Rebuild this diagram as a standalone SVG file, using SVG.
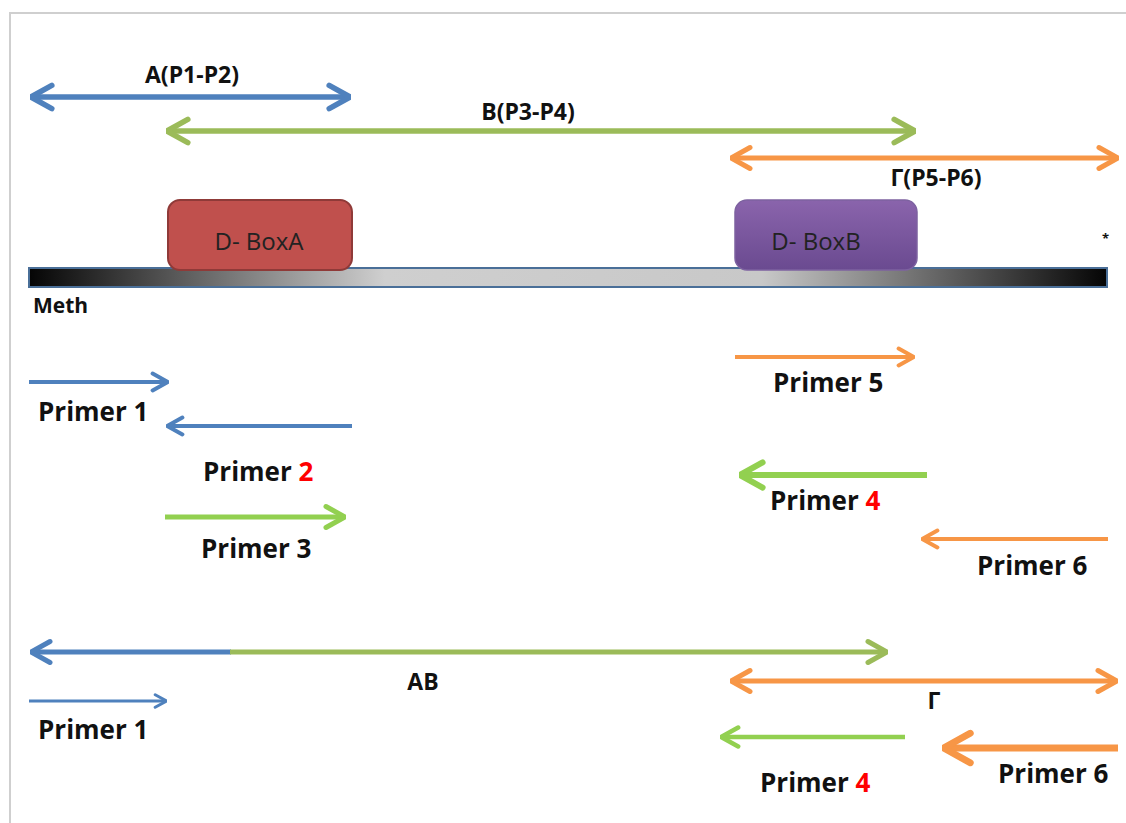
<svg xmlns="http://www.w3.org/2000/svg" width="1126" height="823" viewBox="0 0 1126 823">
<style>
.lbl{font-family:"Open Sans","Liberation Sans",sans-serif;font-weight:700;fill:#111;}
.box{font-family:"Open Sans","Liberation Sans",sans-serif;font-weight:400;fill:#222;font-size:24px;}
.red{fill:#ff0000;}
.ln{fill:none;stroke-linecap:butt;}
.blue{stroke:#4f81bd;}
.green{stroke:#9bbb59;}
.lime{stroke:#92d050;}
.orange{stroke:#f79646;}
</style>
<defs>
<marker id="hb" viewBox="-5 -3 9 6" markerWidth="9" markerHeight="6" refX="3.6" refY="0" orient="auto-start-reverse" markerUnits="strokeWidth">
<path d="M0,-2.1 L3.8,0 L0,2.1" fill="none" stroke="#4f81bd" stroke-width="1" stroke-linecap="round" stroke-linejoin="round"/>
</marker>
<marker id="hg" viewBox="-5 -3 9 6" markerWidth="9" markerHeight="6" refX="3.6" refY="0" orient="auto-start-reverse" markerUnits="strokeWidth">
<path d="M0,-2.1 L3.8,0 L0,2.1" fill="none" stroke="#9bbb59" stroke-width="1" stroke-linecap="round" stroke-linejoin="round"/>
</marker>
<marker id="hl" viewBox="-5 -3 9 6" markerWidth="9" markerHeight="6" refX="3.6" refY="0" orient="auto-start-reverse" markerUnits="strokeWidth">
<path d="M0,-2.1 L3.8,0 L0,2.1" fill="none" stroke="#92d050" stroke-width="1" stroke-linecap="round" stroke-linejoin="round"/>
</marker>
<marker id="ho" viewBox="-5 -3 9 6" markerWidth="9" markerHeight="6" refX="3.6" refY="0" orient="auto-start-reverse" markerUnits="strokeWidth">
<path d="M0,-2.1 L3.8,0 L0,2.1" fill="none" stroke="#f79646" stroke-width="1" stroke-linecap="round" stroke-linejoin="round"/>
</marker>
<linearGradient id="bar" x1="0" y1="0" x2="1" y2="0">
<stop offset="0" stop-color="#050505"/>
<stop offset="0.33" stop-color="#cfcfcf"/>
<stop offset="0.68" stop-color="#c8c8c8"/>
<stop offset="1" stop-color="#050505"/>
</linearGradient>
<linearGradient id="purp" x1="0" y1="0" x2="0" y2="1">
<stop offset="0" stop-color="#8a64ac"/>
<stop offset="1" stop-color="#6a4a90"/>
</linearGradient>
</defs>
<rect x="0" y="0" width="1126" height="823" fill="#ffffff"/>
<rect x="10" y="13" width="1200" height="900" fill="#ffffff" stroke="#cfcfcf" stroke-width="2"/>

<g id="strand">
<rect x="29" y="268" width="1078" height="19" fill="url(#bar)" stroke="#4a6f98" stroke-width="2"/>
<text class="lbl" x="33" y="313" font-size="21">Meth</text>
<text class="lbl" x="1102" y="243" font-size="13">*</text>
</g>

<g id="dboxA">
<rect x="168" y="200" width="184" height="70" rx="12" fill="#c0504d" stroke="#8f3a38" stroke-width="2"/>
<text class="box" x="259" y="250" text-anchor="middle">D- BoxA</text>
</g>
<g id="dboxB">
<rect x="735" y="200" width="182" height="70" rx="12" fill="url(#purp)" stroke="#7d62a0" stroke-width="1.5"/>
<text class="box" x="816" y="250" text-anchor="middle">D- BoxB</text>
</g>

<g id="connectors">
<line class="ln blue" x1="32" y1="97" x2="349" y2="97" stroke-width="5.5" marker-start="url(#hb)" marker-end="url(#hb)"/>
<line class="ln green" x1="168" y1="131" x2="914" y2="131" stroke-width="5.5" marker-start="url(#hg)" marker-end="url(#hg)"/>
<line class="ln orange" x1="732" y1="158" x2="1117" y2="158" stroke-width="5" marker-start="url(#ho)" marker-end="url(#ho)"/>

<line class="ln blue" x1="29" y1="382" x2="167" y2="382" stroke-width="4" marker-end="url(#hb)"/>
<line class="ln blue" x1="352" y1="426" x2="168" y2="426" stroke-width="4" marker-end="url(#hb)"/>
<line class="ln lime" x1="165" y1="517" x2="344" y2="517" stroke-width="5" marker-end="url(#hl)"/>
<line class="ln orange" x1="735" y1="357" x2="913" y2="357" stroke-width="4" marker-end="url(#ho)"/>
<line class="ln lime" x1="927" y1="475" x2="741" y2="475" stroke-width="6" marker-end="url(#hl)"/>
<line class="ln orange" x1="1108" y1="539" x2="923" y2="539" stroke-width="4" marker-end="url(#ho)"/>

<line class="ln blue" x1="231" y1="652" x2="32" y2="652" stroke-width="5" marker-end="url(#hb)"/>
<line class="ln green" x1="230" y1="652" x2="886" y2="652" stroke-width="5" marker-end="url(#hg)"/>
<line class="ln blue" x1="29" y1="701" x2="166" y2="701" stroke-width="3" marker-end="url(#hb)"/>
<line class="ln orange" x1="732" y1="681" x2="1116" y2="681" stroke-width="5" marker-start="url(#ho)" marker-end="url(#ho)"/>
<line class="ln lime" x1="905" y1="737" x2="722" y2="737" stroke-width="4.5" marker-end="url(#hl)"/>
<line class="ln orange" x1="1118" y1="748" x2="945" y2="748" stroke-width="7" marker-end="url(#ho)"/>
</g>

<g id="labels">
<text class="lbl" x="192" y="83" font-size="23" text-anchor="middle">A(P1-P2)</text>
<text class="lbl" x="528" y="120" font-size="23" text-anchor="middle">B(P3-P4)</text>
<text class="lbl" x="936" y="186" font-size="23" text-anchor="middle">Γ(P5-P6)</text>
<text class="lbl" x="38" y="421" font-size="26">Primer 1</text>
<text class="lbl" x="203" y="481" font-size="26">Primer <tspan class="red">2</tspan></text>
<text class="lbl" x="201" y="558" font-size="26">Primer 3</text>
<text class="lbl" x="773" y="392" font-size="26">Primer 5</text>
<text class="lbl" x="770" y="510" font-size="26">Primer <tspan class="red">4</tspan></text>
<text class="lbl" x="977" y="575" font-size="26">Primer 6</text>
<text class="lbl" x="423" y="690" font-size="23" text-anchor="middle">AB</text>
<text class="lbl" x="38" y="739" font-size="26">Primer 1</text>
<text class="lbl" x="934" y="709" font-size="23" text-anchor="middle">Γ</text>
<text class="lbl" x="760" y="792" font-size="26">Primer <tspan class="red">4</tspan></text>
<text class="lbl" x="998" y="783" font-size="26">Primer 6</text>
</g>
</svg>
